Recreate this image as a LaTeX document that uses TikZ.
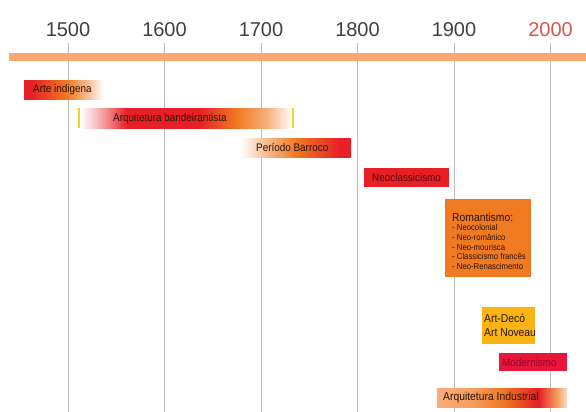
\documentclass[tikz,border=0pt]{standalone}
\usepackage{fontspec}
\setmainfont{Liberation Sans}
\newfontfamily\lblfont{Liberation Sans}[FakeStretch=0.9]
\newfontfamily\yearfont{Liberation Sans}
\definecolor{axisor}{HTML}{F8AA6E}
\definecolor{gridc}{HTML}{BDBDBD}
\definecolor{yeargray}{HTML}{404040}
\definecolor{yearred}{HTML}{D9544E}
\definecolor{redA}{HTML}{E62026}
\definecolor{orA}{HTML}{F07A22}
\definecolor{peach}{HTML}{F9AE78}
\definecolor{gold}{HTML}{FBB416}
\definecolor{modred}{HTML}{E8163C}
\definecolor{maroon}{HTML}{5A0A0A}
\definecolor{modtxt}{HTML}{8E0A24}
\definecolor{ytick}{HTML}{EED72A}
\definecolor{txtdark}{HTML}{2A1208}
\pgfdeclarehorizontalshading{shArte}{100bp}{color(0bp)=(redA); color(25bp)=(redA); color(30bp)=(redA); color(52bp)=(orA); color(65bp)=(orA!50!white); color(75bp)=(white); color(100bp)=(white)}
\pgfdeclarehorizontalshading{shBand}{100bp}{color(0bp)=(white); color(25bp)=(white); color(29bp)=(redA!30!white); color(36bp)=(redA); color(53bp)=(redA); color(62bp)=(orA); color(69bp)=(orA!60!white); color(75bp)=(white); color(100bp)=(white)}
\pgfdeclarehorizontalshading{shBarr}{100bp}{color(0bp)=(white); color(25bp)=(white); color(34bp)=(orA!40!white); color(50bp)=(orA); color(70bp)=(redA); color(75bp)=(redA); color(100bp)=(redA)}
\pgfdeclarehorizontalshading{shInd}{100bp}{color(0bp)=(peach); color(25bp)=(peach); color(38bp)=(peach!70!orA); color(50bp)=(orA); color(64bp)=(redA); color(71bp)=(orA!75!white); color(75bp)=(orA!25!white); color(100bp)=(white)}
\begin{document}
\begin{tikzpicture}[x=1pt,y=-1pt,
  yearlbl/.style={font=\yearfont\fontsize{20}{20}\selectfont, text=yeargray, inner sep=0},
  gridline/.style={draw=gridc, line width=1pt},
  box/.style={rectangle, inner sep=0, draw=none, anchor=north west},
  lbl/.style={font=\lblfont\fontsize{11}{12}\selectfont, inner sep=0, anchor=west, text=txtdark},
  tickmark/.style={draw=ytick, line width=2pt}]
\useasboundingbox (0,0) rectangle (586,412);
\fill[white] (0,0) rectangle (586,412);
% grid lines
\foreach \yr/\xx in {1500/68,1600/164.5,1700/261,1800/357.5,1900/454,2000/550.5}{
  \coordinate (t\yr) at (\xx,43);
  \coordinate (b\yr) at (\xx,412);
  \draw[gridline] (t\yr) -- (b\yr);
}
% year labels
\node[yearlbl] (y1500) at (68,30) {1500};
\node[yearlbl] (y1600) at (164.5,30) {1600};
\node[yearlbl] (y1700) at (261,30) {1700};
\node[yearlbl] (y1800) at (357.5,30) {1800};
\node[yearlbl] (y1900) at (454,30) {1900};
\node[yearlbl, text=yearred] (y2000) at (550.5,30) {2000};
% axis bar
\node[box, fill=axisor, minimum width=577pt, minimum height=8pt] (axis) at (9,53) {};
% boxes
\node[box, shading=shArte, minimum width=79pt, minimum height=19pt] (arte) at (24,80) {};
\node[lbl] (arteT) at ([xshift=9pt]arte.west) {Arte indigena};
\node[box, shading=shBand, minimum width=212pt, minimum height=20pt] (band) at (80,108) {};
\node[lbl] (bandT) at ([xshift=33pt]band.west) {Arquitetura bandeirantista};
\draw[tickmark] ([xshift=-1pt]band.north west) -- ([xshift=-1pt]band.south west);
\draw[tickmark] ([xshift=1pt]band.north east) -- ([xshift=1pt]band.south east);
\node[box, shading=shBarr, minimum width=111pt, minimum height=19pt] (barr) at (240,138) {};
\node[lbl] (barrT) at ([xshift=16pt]barr.west) {Período Barroco};
\node[box, fill=redA, minimum width=85pt, minimum height=19pt] (neo) at (364,168) {};
\node[lbl, text=maroon] (neoT) at ([xshift=8pt]neo.west) {Neoclassicismo};
\node[box, fill=orA, minimum width=86pt, minimum height=78pt] (rom) at (445,199) {};
\node[lbl, font=\lblfont\fontsize{11.5}{12}\selectfont] (romT) at ([shift={(7,18)}]rom.north west) {Romantismo:};
\node[lbl, anchor=north west, align=left, font=\lblfont\fontsize{8.6}{9.8}\selectfont] (romL) at ([shift={(7,25)}]rom.north west)
  {- Neocolonial\\- Neo-românico\\- Neo-mourisca\\- Classicismo francês\\- Neo-Renascimento};
\node[box, fill=gold, minimum width=53pt, minimum height=37pt] (deco) at (482,307) {};
\node[lbl, anchor=north west, align=left, font=\lblfont\fontsize{11.5}{14}\selectfont] (decoT) at ([shift={(2,6.5)}]deco.north west) {Art-Decó\\Art Noveau};
\node[box, fill=modred, minimum width=68pt, minimum height=18pt] (mod) at (499,353) {};
\node[lbl, text=modtxt] (modT) at ([xshift=3pt]mod.west) {Modernismo};
\node[box, shading=shInd, minimum width=130pt, minimum height=19pt] (ind) at (437,388) {};
\node[lbl, font=\lblfont\fontsize{11.5}{12}\selectfont] (indT) at ([xshift=6pt]ind.west) {Arquitetura Industrial};
\end{tikzpicture}
\end{document}
